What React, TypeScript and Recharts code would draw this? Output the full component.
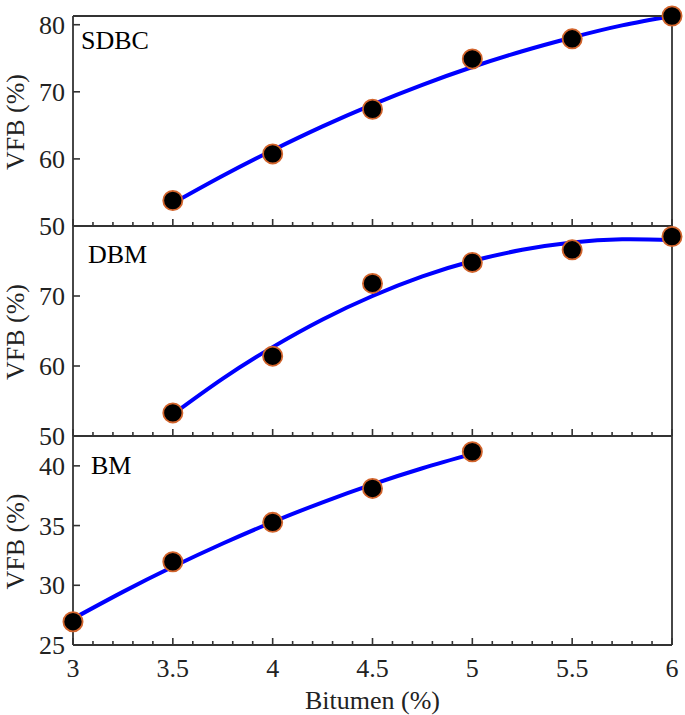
import React from 'react';
import { ComposedChart, Line, Scatter, XAxis, YAxis } from 'recharts';

// ---------- data ----------
const xTicks = [3, 3.1, 3.2, 3.3, 3.4, 3.5, 3.6, 3.7, 3.8, 3.9, 4, 4.1, 4.2, 4.3, 4.4, 4.5, 4.6, 4.7, 4.8, 4.9, 5, 5.1, 5.2, 5.3, 5.4, 5.5, 5.6, 5.7, 5.8, 5.9, 6];

const sdbcBitumen = [3.5, 4, 4.5, 5, 5.5, 6];
const sdbcVfb = [53.8, 60.75, 67.4, 74.9, 77.9, 81.3];
const sdbcFitBitumen = [3.5, 3.75, 4, 4.25, 4.5, 4.75, 5, 5.25, 5.5, 5.75, 6];
const sdbcFitVfb = [53.4, 57.5, 61.3, 64.85, 68.1, 71.05, 73.7, 76.05, 78.1, 79.9, 81.3];
const sdbcTicks = [50, 60, 70, 80];

const dbmBitumen = [3.5, 4, 4.5, 5, 5.5, 6];
const dbmVfb = [53.3, 61.4, 71.8, 74.8, 76.6, 78.5];
const dbmFitBitumen = [3.5, 3.75, 4, 4.25, 4.5, 4.75, 5, 5.25, 5.5, 5.75, 6];
const dbmFitVfb = [53.1, 58.2, 62.7, 66.65, 70.0, 72.8, 75.0, 76.6, 77.65, 78.1, 78.0];
const dbmTicks = [50, 60, 70];

const bmBitumen = [3, 3.5, 4, 4.5, 5];
const bmVfb = [26.95, 31.97, 35.27, 38.11, 41.18];
const bmFitBitumen = [3, 3.25, 3.5, 3.75, 4, 4.25, 4.5, 4.75, 5];
const bmFitVfb = [27.2, 29.45, 31.55, 33.5, 35.3, 36.95, 38.45, 39.8, 41.0];
const bmTicks = [25, 30, 35, 40];

const zip = (xs: number[], ys: number[]) => xs.map((x, i) => ({ x, y: ys[i] }));

// ---------- styles ----------
const FONT = '"Liberation Serif", "Times New Roman", serif';
const AXIS = '#333333';
const TEXT = '#222222';
const W = 685;
const H = 715;
const LEFT = 73;
const RIGHT = 13;

const isMajor = (v: number) => Math.abs(v * 2 - Math.round(v * 2)) < 1e-6;

const BottomTick = (props: any) => {
  const { x, y, payload, showLabel } = props;
  const v = Number(payload.value);
  const major = isMajor(v);
  return (
    <g>
      <line x1={x} x2={x} y1={y} y2={y - (major ? 7 : 4)} stroke={AXIS} strokeWidth={1.6} />
      {showLabel && major ? (
        <text x={x} y={y + 32} textAnchor="middle" fontFamily={FONT} fontSize={26} fill={TEXT}>
          {String(v)}
        </text>
      ) : null}
    </g>
  );
};

const TopTick = (props: any) => {
  const { x, y, payload } = props;
  const v = Number(payload.value);
  const major = isMajor(v);
  return <line x1={x} x2={x} y1={y} y2={y + (major ? 7 : 4)} stroke={AXIS} strokeWidth={1.6} />;
};

const LeftTick = (props: any) => {
  const { x, y, payload } = props;
  return (
    <g>
      <line x1={x} x2={x + 7} y1={y} y2={y} stroke={AXIS} strokeWidth={1.6} />
      <text x={x - 8} y={y} dy="0.35em" textAnchor="end" fontFamily={FONT} fontSize={26} fill={TEXT}>
        {String(payload.value)}
      </text>
    </g>
  );
};

const RightTick = (props: any) => {
  const { x, y } = props;
  return <line x1={x} x2={x - 7} y1={y} y2={y} stroke={AXIS} strokeWidth={1.6} />;
};

const PanelText = (props: any) => {
  const { name, nameX, nameY, midY } = props;
  return (
    <g>
      <text x={24} y={midY} transform={`rotate(-90 24 ${midY})`} textAnchor="middle" fontFamily={FONT} fontSize={26} fill={TEXT}>
        VFB (%)
      </text>
      <text x={nameX} y={nameY} fontFamily={FONT} fontSize={26} fill="#000">
        {name}
      </text>
    </g>
  );
};

const XTitle = (props: any) => (
  <text x={372.5} y={709} textAnchor="middle" fontFamily={FONT} fontSize={26} fill={TEXT}>
    Bitumen (%)
  </text>
);

const Dot = (props: any) => {
  const { cx, cy } = props;
  return <circle cx={cx} cy={cy} r={9.6} fill="#000000" stroke="#d2642c" strokeWidth={1.8} />;
};

type PanelProps = {
  top: number;
  bottom: number;
  domain: [number, number];
  yTicks: number[];
  fit: { x: number; y: number }[];
  points: { x: number; y: number }[];
  name: string;
  nameX: number;
  nameY: number;
  showX: boolean;
};

const Panel = ({ top, bottom, domain, yTicks, fit, points, name, nameX, nameY, showX }: PanelProps) => {
  const midY = (top + bottom) / 2 + 1;
  const axisLine = { stroke: AXIS, strokeWidth: 1.8 };
  return (
    <ComposedChart
      width={W}
      height={H}
      margin={{ top: top - 1, right: RIGHT - 1, bottom: H - bottom - 1, left: LEFT - 1 }}
      style={{ position: 'absolute', left: 0, top: 0 }}
    >
      <XAxis
        xAxisId="bottom"
        dataKey="x"
        type="number"
        domain={[3, 6]}
        ticks={xTicks}
        interval={0}
        height={1}
        tickSize={0}
        tickMargin={0}
        tickLine={false}
        axisLine={axisLine}
        tick={(p: any) => <BottomTick {...p} showLabel={showX} />}
        label={showX ? <XTitle /> : undefined}
      />
      <XAxis
        xAxisId="top"
        orientation="top"
        type="number"
        domain={[3, 6]}
        ticks={xTicks}
        interval={0}
        height={1}
        tickSize={0}
        tickMargin={0}
        tickLine={false}
        axisLine={axisLine}
        tick={(p: any) => <TopTick {...p} />}
      />
      <YAxis
        yAxisId="left"
        dataKey="y"
        type="number"
        domain={domain}
        ticks={yTicks}
        interval={0}
        width={1}
        tickSize={0}
        tickMargin={0}
        tickLine={false}
        axisLine={axisLine}
        tick={(p: any) => <LeftTick {...p} />}
        label={<PanelText name={name} nameX={nameX} nameY={nameY} midY={midY} />}
      />
      <YAxis
        yAxisId="right"
        orientation="right"
        type="number"
        domain={domain}
        ticks={yTicks}
        interval={0}
        width={1}
        tickSize={0}
        tickMargin={0}
        tickLine={false}
        axisLine={axisLine}
        tick={(p: any) => <RightTick {...p} />}
      />
      <Line
        xAxisId="bottom"
        yAxisId="left"
        data={fit}
        dataKey="y"
        type="natural"
        stroke="#0000ff"
        strokeWidth={4}
        dot={false}
        activeDot={false}
        isAnimationActive={false}
      />
      <Scatter
        xAxisId="bottom"
        yAxisId="left"
        data={points}
        dataKey="y"
        shape={(p: any) => <Dot {...p} />}
        isAnimationActive={false}
      />
    </ComposedChart>
  );
};

export default function App() {
  return (
    <div style={{ position: 'absolute', left: 0, top: 0, width: W, height: H, background: '#ffffff' }}>
      <Panel
        top={16}
        bottom={226}
        domain={[50, 81.3]}
        yTicks={sdbcTicks}
        fit={zip(sdbcFitBitumen, sdbcFitVfb)}
        points={zip(sdbcBitumen, sdbcVfb)}
        name="SDBC"
        nameX={81}
        nameY={49}
        showX={false}
      />
      <Panel
        top={226}
        bottom={436}
        domain={[50, 80]}
        yTicks={dbmTicks}
        fit={zip(dbmFitBitumen, dbmFitVfb)}
        points={zip(dbmBitumen, dbmVfb)}
        name="DBM"
        nameX={88}
        nameY={263}
        showX={false}
      />
      <Panel
        top={436}
        bottom={645}
        domain={[25, 42.5]}
        yTicks={bmTicks}
        fit={zip(bmFitBitumen, bmFitVfb)}
        points={zip(bmBitumen, bmVfb)}
        name="BM"
        nameX={91}
        nameY={474}
        showX={true}
      />
    </div>
  );
}
